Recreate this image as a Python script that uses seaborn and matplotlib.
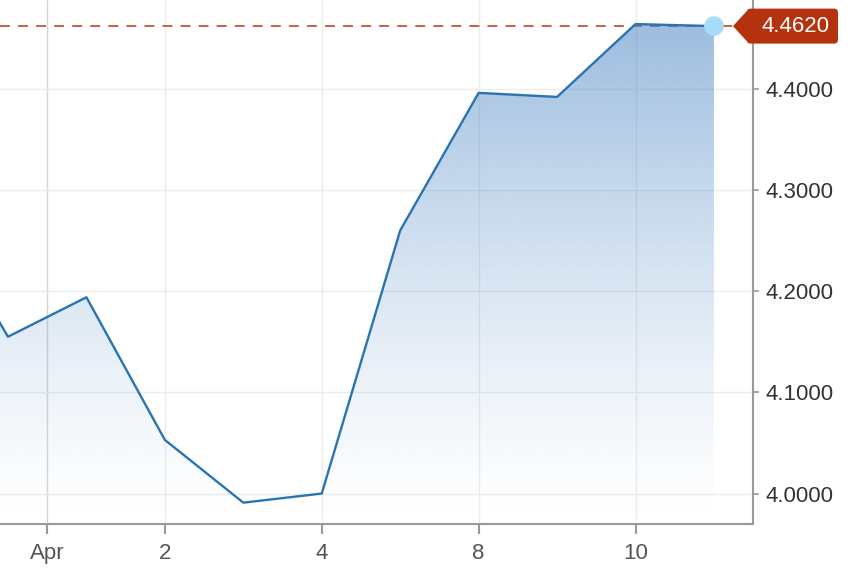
import numpy as np
import pandas as pd
import matplotlib
matplotlib.use("Agg")
import matplotlib.pyplot as plt
import seaborn as sns
from matplotlib.patches import Polygon, FancyBboxPatch
from matplotlib.transforms import IdentityTransform

# ---- data ----
dates = ["Mar 28", "Mar 29", "Apr 1", "Apr 2", "Apr 3", "Apr 4",
         "Apr 5", "Apr 8", "Apr 9", "Apr 10", "Apr 11"]
values = [4.287, 4.155, 4.194, 4.053, 3.991, 4.000,
          4.260, 4.396, 4.392, 4.464, 4.462]
tick_pos = [1.5, 3, 5, 7, 9]
tick_labels = ["Apr", "2", "4", "8", "10"]
y_ticks = [4.0, 4.1, 4.2, 4.3, 4.4]
last_label = "4.4620"

df = pd.DataFrame({"idx": np.arange(len(dates)), "date": dates, "value": values})

sns.set_theme(style="white")
plt.rcParams['font.family'] = ['Liberation Sans', 'DejaVu Sans']

W, H = 858, 574
fig = plt.figure(figsize=(W / 100, H / 100), dpi=100)
ax = fig.add_axes([0, 50 / H, 753 / W, 524 / H])

xlim = (0.898, 10.498)
ylim = (3.9699, 4.4878)

# gradient area fill
poly = ax.fill_between(df["idx"], df["value"], ylim[0], facecolor="none", edgecolor="none")
n = 256
t = np.linspace(0, 1, n)
grad = np.zeros((n, 1, 4))
base = np.array([70, 130, 195]) / 255
grad[:, 0, :3] = base
grad[:, 0, 3] = 0.53 * t ** 1.3
im = ax.imshow(grad, extent=[df["idx"].iloc[0], df["idx"].iloc[-1], ylim[0], max(values)],
               aspect="auto", origin="lower", zorder=1, interpolation="bilinear")
im.set_clip_path(poly.get_paths()[0], transform=ax.transData)

# dashed last-value line
ax.axhline(values[-1], color="#c4543a", lw=1.3, ls=(0, (5.5, 4.5)), zorder=0.8)

# line
sns.lineplot(data=df, x="idx", y="value", color="#2a74b2", linewidth=1.7, ax=ax, zorder=3)

# last point dot
ax.scatter([df["idx"].iloc[-1]], [values[-1]], s=200, color="#a6dcf7", zorder=5, edgecolor="none")

ax.set_xlim(*xlim)
ax.set_ylim(*ylim)
ax.set_xlabel("")
ax.set_ylabel("")

ax.set_xticks(tick_pos)
ax.set_xticklabels(tick_labels)
ax.set_yticks(y_ticks)
ax.set_yticklabels([f"{v:.4f}" for v in y_ticks])
ax.yaxis.tick_right()

ax.grid(True, color="#ececec", lw=1.0, zorder=0)
ax.set_axisbelow(True)
ax.get_xgridlines()[0].set_color("#d6d6d6")

for s in ["left", "top"]:
    ax.spines[s].set_visible(False)
for s in ["bottom", "right"]:
    ax.spines[s].set_color("#9a9a9a")
    ax.spines[s].set_linewidth(1.5)

ax.tick_params(axis="x", length=7, width=1.5, color="#9a9a9a", pad=7,
               labelsize=16, labelcolor="#555555", bottom=True)
ax.tick_params(axis="y", length=4, width=1.2, color="#9a9a9a", pad=5,
               labelsize=16, labelcolor="#333333", right=True, left=False)

# value tag on the right
fig.canvas.draw()
_, ty = ax.transData.transform((0, values[-1]))
tx = ax.transAxes.transform((733 / 753, 0))[0]
tag_color = "#b5320f"
half = 17.5
tri = Polygon([(tx, ty), (tx + 16, ty + half), (tx + 16, ty - half)], closed=True,
              transform=IdentityTransform(), facecolor=tag_color, edgecolor="none",
              clip_on=False, zorder=10)
fig.add_artist(tri)
box = FancyBboxPatch((tx + 14, ty - half), 91, 2 * half,
                     boxstyle="round,pad=0,rounding_size=4",
                     transform=IdentityTransform(), facecolor=tag_color, edgecolor="none",
                     clip_on=False, zorder=10)
fig.add_artist(box)
fig.text(tx + 62, ty, last_label, transform=IdentityTransform(), color="white",
         fontsize=16, ha="center", va="center", zorder=11)

fig.savefig("out.png", dpi=100)
